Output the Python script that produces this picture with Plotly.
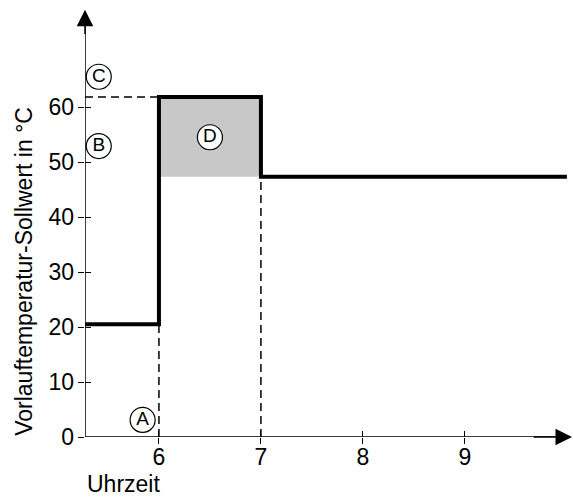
import plotly.graph_objects as go

# Data
step_x = [5.275, 6, 6, 7, 7, 10.0]
step_y = [20.5, 20.5, 61.8, 61.8, 47.3, 47.3]
fill_x = [6, 7, 7, 6, 6]
fill_y = [47.3, 47.3, 61.8, 61.8, 47.3]
dash_v_x = [6, 7]
dash_v_top = [20.5, 47.3]
dash_h_y = 61.8
label_text = ["A", "B", "C", "D"]
label_x = [5.84, 5.41, 5.41, 6.5]
label_y = [3.1, 52.9, 65.5, 54.5]
x_ticks = [6, 7, 8, 9]
y_ticks = [0, 10, 20, 30, 40, 50, 60]
X0, X1 = 5.275, 10.06
Y0, Y1 = 0, 78

FONT = "Liberation Sans, Arial, sans-serif"
fig = go.Figure()

fig.add_trace(go.Scatter(x=fill_x, y=fill_y, fill="toself", fillcolor="#c8c8c8",
                         line=dict(width=0), mode="lines", hoverinfo="skip"))
for xv, yt in zip(dash_v_x, dash_v_top):
    fig.add_trace(go.Scatter(x=[xv, xv], y=[0, yt], mode="lines",
                             line=dict(color="black", width=1.5, dash="8px,5px")))
fig.add_trace(go.Scatter(x=[X0, 6], y=[dash_h_y, dash_h_y], mode="lines",
                         line=dict(color="black", width=1.5, dash="8px,5px")))
fig.add_trace(go.Scatter(x=step_x, y=step_y, mode="lines",
                         line=dict(color="black", width=4)))
fig.add_trace(go.Scatter(x=label_x, y=label_y, mode="markers+text", text=label_text,
                         textposition="middle center",
                         textfont=dict(family=FONT, size=19, color="black"),
                         marker=dict(symbol="circle", size=25, color="white",
                                     line=dict(color="black", width=1.2))))

axis_common = dict(showgrid=False, zeroline=False, showline=False, automargin=False,
                   tickcolor="black", tickwidth=1.3,
                   tickfont=dict(family=FONT, size=23, color="black"))
fig.update_layout(
    width=573, height=497, showlegend=False,
    plot_bgcolor="white", paper_bgcolor="white",
    margin=dict(l=85, r=0, t=8, b=60, autoexpand=False),
    xaxis=dict(range=[X0, X1], tickvals=x_ticks, ticks="", ticklabelstandoff=4, **axis_common),
    yaxis=dict(range=[Y0, Y1], tickvals=y_ticks, ticks="", ticklabelstandoff=10, **axis_common),
    xaxis2=dict(range=[X0, X1], tickvals=x_ticks, ticks="inside", ticklen=6,
                showticklabels=False, overlaying="x", matches="x", **axis_common),
    yaxis2=dict(range=[Y0, Y1], tickvals=y_ticks, ticks="inside", ticklen=6,
                showticklabels=False, overlaying="y", matches="y", **axis_common),
    xaxis3=dict(range=[X0, X1], tickvals=x_ticks, ticks="outside", ticklen=6,
                showticklabels=False, overlaying="x", matches="x", **axis_common),
    yaxis3=dict(range=[Y0, Y1], tickvals=y_ticks, ticks="outside", ticklen=6,
                showticklabels=False, overlaying="y", matches="y", **axis_common),
)
fig.add_trace(go.Scatter(x=[X0], y=[Y0], xaxis="x2", yaxis="y2", mode="markers",
                         marker=dict(opacity=0), hoverinfo="skip"))
fig.add_trace(go.Scatter(x=[X0], y=[Y0], xaxis="x3", yaxis="y3", mode="markers",
                         marker=dict(opacity=0), hoverinfo="skip"))

# axis lines with arrows
fig.add_shape(type="line", x0=X0, x1=X1 - 0.15, y0=0, y1=0,
              line=dict(color="black", width=1.5), layer="below")
fig.add_shape(type="line", x0=X0, x1=X0, y0=0, y1=Y1 - 3,
              line=dict(color="black", width=1.5), layer="below")
fig.add_annotation(x=X1 - 0.01, y=0, ax=X1 - 0.4, ay=0, xref="x", yref="y", axref="x", ayref="y",
                   showarrow=True, arrowhead=2, arrowsize=2.2, arrowwidth=1.5, text="",
                   arrowcolor="black")
fig.add_annotation(x=X0, y=Y1 - 0.3, ax=X0, ay=Y1 - 5, xref="x", yref="y", axref="x", ayref="y",
                   showarrow=True, arrowhead=2, arrowsize=2.2, arrowwidth=1.5, text="",
                   arrowcolor="black")

fig.add_annotation(text="Vorlauftemperatur-Sollwert in °C", textangle=-90,
                   xref="paper", yref="paper", x=-0.125, y=0.385, showarrow=False,
                   xanchor="center", yanchor="middle",
                   font=dict(family=FONT, size=23, color="black"))
fig.add_annotation(text="Uhrzeit", xref="paper", yref="paper", x=0, y=-0.11,
                   xanchor="left", yanchor="middle", showarrow=False,
                   font=dict(family=FONT, size=23, color="black"))

fig.write_html("out.html", post_script="document.body.style.margin='0';",
               config={"displayModeBar": False})
